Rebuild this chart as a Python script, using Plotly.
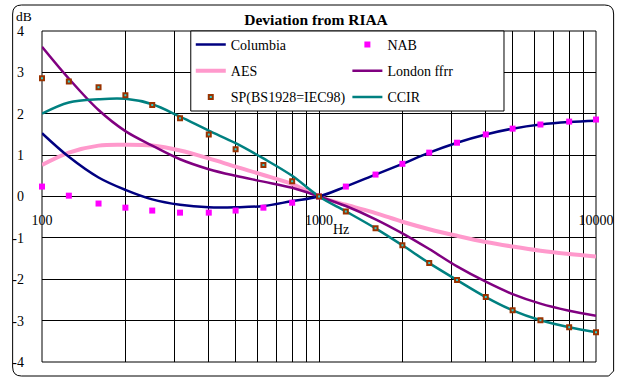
import plotly.graph_objects as go

freqs = [100, 125, 160, 200, 250, 315, 400, 500, 630, 800, 1000,
         1250, 1600, 2000, 2500, 3150, 4000, 5000, 6300, 8000, 10000]
columbia = [1.53, 0.96, 0.46, 0.16, -0.07, -0.20, -0.26, -0.26, -0.23, -0.11, 0.0,
            0.24, 0.53, 0.79, 1.06, 1.30, 1.50, 1.64, 1.74, 1.80, 1.83]
nab = [0.24, 0.02, -0.17, -0.27, -0.34, -0.39, -0.39, -0.34, -0.27, -0.15, 0.0,
       0.24, 0.53, 0.79, 1.06, 1.30, 1.50, 1.64, 1.74, 1.81, 1.86]
aes = [0.76, 1.06, 1.23, 1.25, 1.23, 1.11, 0.92, 0.72, 0.52, 0.30, 0.0,
       -0.20, -0.40, -0.61, -0.79, -0.95, -1.10, -1.21, -1.31, -1.39, -1.45]
london = [3.62, 2.85, 2.09, 1.58, 1.23, 0.90, 0.66, 0.50, 0.36, 0.21, 0.0,
          -0.23, -0.55, -0.89, -1.27, -1.69, -2.06, -2.36, -2.59, -2.76, -2.88]
ccir = [2.00, 2.27, 2.35, 2.36, 2.23, 1.93, 1.59, 1.29, 0.92, 0.50, 0.0,
        -0.36, -0.77, -1.18, -1.61, -2.02, -2.43, -2.75, -2.99, -3.16, -3.28]
sp = [2.86, 2.78, 2.64, 2.45, 2.21, 1.89, 1.50, 1.14, 0.76, 0.37, 0.0,
      -0.36, -0.77, -1.18, -1.61, -2.02, -2.43, -2.75, -2.99, -3.16, -3.28]

grid_x = [100, 200, 300, 400, 500, 600, 700, 800, 900,
          1000, 2000, 3000, 4000, 5000, 6000, 7000, 8000, 9000, 10000]
grid_x_text = ["100", "", "", "", "", "", "", "", "",
               "1000", "", "", "", "", "", "", "", "", "10000"]
y_vals = [4, 3, 2, 1, 0, -1, -2, -3, -4]
y_text = ["4", "3", "2", "1", "0", "-1", "-2", "-3", "-4"]

FONT = "Liberation Serif"
W, H = 626, 382
L, R, T, B = 36, 602, 31, 362


def px(x):
    return (x - L) / (R - L)


def py(y):
    return (B - y) / (B - T)


fig = go.Figure()

fig.add_trace(go.Scatter(x=freqs, y=aes, name="AES", mode="lines",
                         line=dict(color="#FF99CC", width=4, shape="spline"),
                         legend="legend", legendrank=2))
fig.add_trace(go.Scatter(x=freqs, y=london, name="London ffrr", mode="lines",
                         line=dict(color="#800080", width=2.5, shape="spline"),
                         legend="legend2", legendrank=2))
fig.add_trace(go.Scatter(x=freqs, y=ccir, name="CCIR", mode="lines",
                         line=dict(color="#008080", width=2.5, shape="spline"),
                         legend="legend2", legendrank=3))
fig.add_trace(go.Scatter(x=freqs, y=columbia, name="Columbia", mode="lines",
                         line=dict(color="#000080", width=2.5, shape="spline"),
                         legend="legend", legendrank=1))
fig.add_trace(go.Scatter(x=freqs, y=nab, name="NAB", mode="markers",
                         marker=dict(color="#FF00FF", size=6, symbol="square",
                                     line=dict(width=0)),
                         legend="legend2", legendrank=1))
fig.add_trace(go.Scatter(x=freqs, y=sp, name="SP(BS1928=IEC98)", mode="markers",
                         marker=dict(color="#33CCCC", size=4, symbol="square",
                                     line=dict(color="#993300", width=2)),
                         legend="legend", legendrank=3))

for i, tr in enumerate(fig.data):
    tr.legendgroup = "g%d" % i
    tr.cliponaxis = False

shapes = []
# legend box (white, above traces, under legends)
shapes.append(dict(type="rect", xref="paper", yref="paper",
                   x0=px(188), x1=px(508), y0=py(111), y1=py(31),
                   fillcolor="white", line=dict(color="black", width=1),
                   layer="above"))
# zero dotted line
shapes.append(dict(type="line", xref="paper", yref="y", x0=0, x1=1, y0=0, y1=0,
                   line=dict(color="#FF0000", width=1, dash="2px,3px"),
                   layer="below"))
# plot border
shapes.append(dict(type="rect", xref="paper", yref="paper", x0=0, x1=1, y0=0, y1=1,
                   line=dict(color="black", width=1), layer="below"))
# outer rounded border
x0, x1, y0, y1, r = 6, 620, 5, 376, 9
path = (f"M{px(x0 + r)},{py(y0)} L{px(x1 - r)},{py(y0)} "
        f"Q{px(x1)},{py(y0)} {px(x1)},{py(y0 + r)} "
        f"L{px(x1)},{py(y1 - 5)} L{px(x1 - 5)},{py(y1)} "
        f"L{px(x0 + r)},{py(y1)} Q{px(x0)},{py(y1)} {px(x0)},{py(y1 - r)} "
        f"L{px(x0)},{py(y0 + r)} Q{px(x0)},{py(y0)} {px(x0 + r)},{py(y0)} Z")
shapes.append(dict(type="path", xref="paper", yref="paper", path=path,
                   line=dict(color="black", width=1), layer="below"))

legend_common = dict(bgcolor="rgba(0,0,0,0)", borderwidth=0,
                     font=dict(family=FONT, size=14, color="black"),
                     yanchor="top", y=1.0 + 2 / (B - T), xanchor="left",
                     tracegroupgap=5, orientation="v",
                     itemclick=False, itemdoubleclick=False)

fig.update_layout(
    width=W, height=H,
    margin=dict(l=L, r=W - R, t=T, b=H - B),
    paper_bgcolor="white", plot_bgcolor="white",
    font=dict(family=FONT, size=14, color="black"),
    showlegend=True,
    legend=dict(x=px(188), **legend_common),
    legend2=dict(x=px(348), **legend_common),
    title=dict(text="<b>Deviation from RIAA</b>", x=px(316), xref="paper",
               xanchor="center", y=1 - 20 / H, yref="container", yanchor="middle",
               font=dict(family=FONT, size=15.5, color="black")),
    xaxis=dict(type="log", range=[2, 4], tickvals=grid_x, ticktext=grid_x_text,
               showgrid=True, gridcolor="black", gridwidth=1, zeroline=False,
               showline=False, ticks="", anchor="free", position=0.5,
               ticklabelstandoff=13, tickangle=0,
               tickfont=dict(family=FONT, size=14, color="black")),
    yaxis=dict(range=[-4, 4], tickvals=y_vals, ticktext=y_text,
               showgrid=True, gridcolor="black", gridwidth=1, zeroline=False,
               showline=False, ticks="", ticklabelstandoff=17,
               tickfont=dict(family=FONT, size=14, color="black")),
    shapes=shapes,
    annotations=[
        dict(text="dB", xref="paper", yref="paper", x=px(18), y=py(17),
             xanchor="center", yanchor="middle", showarrow=False,
             font=dict(family=FONT, size=13.5, color="black")),
        dict(text="Hz", xref="paper", yref="paper", x=px(341), y=py(229),
             xanchor="center", yanchor="middle", showarrow=False,
             font=dict(family=FONT, size=14, color="black")),
    ],
)

fig.write_html("out.html", config={"displayModeBar": False},
               post_script="document.body.style.margin='0';document.body.style.padding='0';")
